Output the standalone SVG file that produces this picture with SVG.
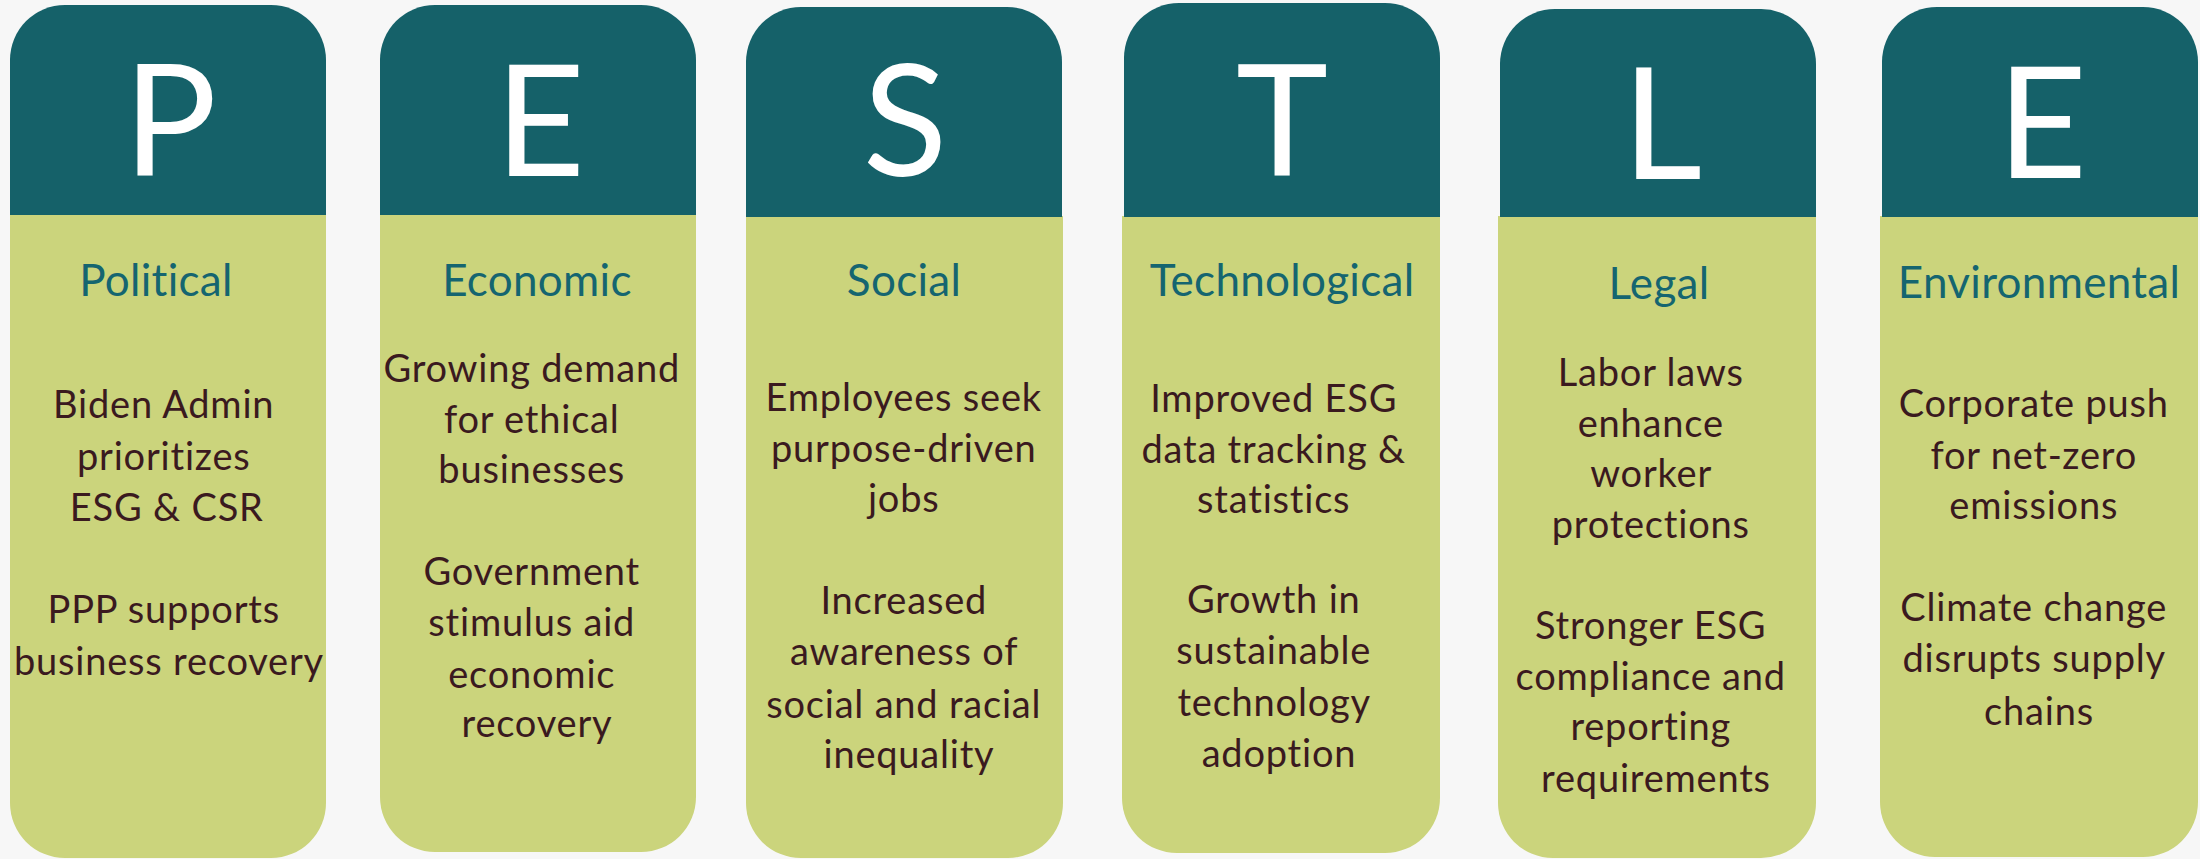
<svg xmlns="http://www.w3.org/2000/svg" width="2200" height="859" viewBox="0 0 2200 859">
  <style>
    .hd { fill: #156169; }
    .bd { fill: #CBD47C; }
    .big { font-family: Lato, "Liberation Sans", sans-serif; font-size: 156px; fill: #FFFFFF; text-anchor: middle; }
    .ttl { font-family: Lato, "Liberation Sans", sans-serif; font-size: 44px; letter-spacing: 0.3px; fill: #156570; text-anchor: middle; }
    .txt { font-family: Lato, "Liberation Sans", sans-serif; font-size: 38px; letter-spacing: 0.8px; fill: #3A1A1F; text-anchor: middle; }
  </style>
  <rect width="2200" height="859" fill="#F7F7F7"/>

  <g id="connectors"/>

  <!-- Political -->
  <g id="col-political">
    <path class="bd" d="M10 214 H326 V803 A55 55 0 0 1 271 858 H65 A55 55 0 0 1 10 803 Z"/>
    <path class="hd" d="M10 215 V60 A55 55 0 0 1 65 5 H271 A55 55 0 0 1 326 60 V215 Z"/>
    <text class="big" x="170" y="176">P</text>
    <text class="ttl" x="156" y="296">Political</text>
    <text class="txt">
      <tspan x="169" y="418">Biden Admin</tspan>
      <tspan x="169" y="470">prioritizes</tspan>
      <tspan x="172" y="521">ESG &amp; CSR</tspan>
      <tspan x="169" y="623">PPP supports</tspan>
      <tspan x="169" y="675">business recovery</tspan>
    </text>
  </g>

  <!-- Economic -->
  <g id="col-economic">
    <path class="bd" d="M380 214 H696 V797 A55 55 0 0 1 641 852 H435 A55 55 0 0 1 380 797 Z"/>
    <path class="hd" d="M380 215 V60 A55 55 0 0 1 435 5 H641 A55 55 0 0 1 696 60 V215 Z"/>
    <text class="big" x="540" y="176">E</text>
    <text class="ttl" x="537" y="296">Economic</text>
    <text class="txt">
      <tspan x="537" y="382">Growing demand</tspan>
      <tspan x="537" y="433">for ethical</tspan>
      <tspan x="537" y="483">businesses</tspan>
      <tspan x="537" y="585">Government</tspan>
      <tspan x="537" y="636">stimulus aid</tspan>
      <tspan x="537" y="688">economic</tspan>
      <tspan x="537" y="737">recovery</tspan>
    </text>
  </g>

  <!-- Social -->
  <g id="col-social">
    <path class="bd" d="M746 216 H1063 V803 A55 55 0 0 1 1008 858 H801 A55 55 0 0 1 746 803 Z"/>
    <path class="hd" d="M746 217 V62 A55 55 0 0 1 801 7 H1007 A55 55 0 0 1 1062 62 V217 Z"/>
    <text class="big" x="905" y="176">S</text>
    <text class="ttl" x="904" y="296">Social</text>
    <text class="txt">
      <tspan x="909" y="411">Employees seek</tspan>
      <tspan x="909" y="462">purpose-driven</tspan>
      <tspan x="909" y="512">jobs</tspan>
      <tspan x="909" y="614">Increased</tspan>
      <tspan x="909" y="665">awareness of</tspan>
      <tspan x="909" y="718">social and racial</tspan>
      <tspan x="909" y="768">inequality</tspan>
    </text>
  </g>

  <!-- Technological -->
  <g id="col-technological">
    <path class="bd" d="M1122 216 H1440 V798 A55 55 0 0 1 1385 853 H1177 A55 55 0 0 1 1122 798 Z"/>
    <path class="hd" d="M1124 217 V58 A55 55 0 0 1 1179 3 H1385 A55 55 0 0 1 1440 58 V217 Z"/>
    <text class="big" x="1282" y="176">T</text>
    <text class="ttl" x="1282" y="296">Technological</text>
    <text class="txt">
      <tspan x="1279" y="412">Improved ESG</tspan>
      <tspan x="1279" y="463">data tracking &amp;</tspan>
      <tspan x="1279" y="513">statistics</tspan>
      <tspan x="1279" y="613">Growth in</tspan>
      <tspan x="1279" y="664">sustainable</tspan>
      <tspan x="1279" y="716">technology</tspan>
      <tspan x="1279" y="767">adoption</tspan>
    </text>
  </g>

  <!-- Legal -->
  <g id="col-legal">
    <path class="bd" d="M1498 216 H1816 V803 A55 55 0 0 1 1761 858 H1553 A55 55 0 0 1 1498 803 Z"/>
    <path class="hd" d="M1500 217 V64 A55 55 0 0 1 1555 9 H1761 A55 55 0 0 1 1816 64 V217 Z"/>
    <text class="big" x="1662" y="179">L</text>
    <text class="ttl" x="1659" y="299">Legal</text>
    <text class="txt">
      <tspan x="1656" y="386">Labor laws</tspan>
      <tspan x="1656" y="437">enhance</tspan>
      <tspan x="1656" y="487">worker</tspan>
      <tspan x="1656" y="538">protections</tspan>
      <tspan x="1656" y="639">Stronger ESG</tspan>
      <tspan x="1656" y="690">compliance and</tspan>
      <tspan x="1656" y="740">reporting</tspan>
      <tspan x="1656" y="792">requirements</tspan>
    </text>
  </g>

  <!-- Environmental -->
  <g id="col-environmental">
    <path class="bd" d="M1880 216 H2198 V802 A55 55 0 0 1 2143 857 H1935 A55 55 0 0 1 1880 802 Z"/>
    <path class="hd" d="M1882 217 V62 A55 55 0 0 1 1937 7 H2143 A55 55 0 0 1 2198 62 V217 Z"/>
    <text class="big" x="2042" y="178">E</text>
    <text class="ttl" x="2039" y="298">Environmental</text>
    <text class="txt">
      <tspan x="2039" y="417">Corporate push</tspan>
      <tspan x="2039" y="469">for net-zero</tspan>
      <tspan x="2039" y="519">emissions</tspan>
      <tspan x="2039" y="621">Climate change</tspan>
      <tspan x="2039" y="672">disrupts supply</tspan>
      <tspan x="2039" y="725">chains</tspan>
    </text>
  </g>
</svg>
